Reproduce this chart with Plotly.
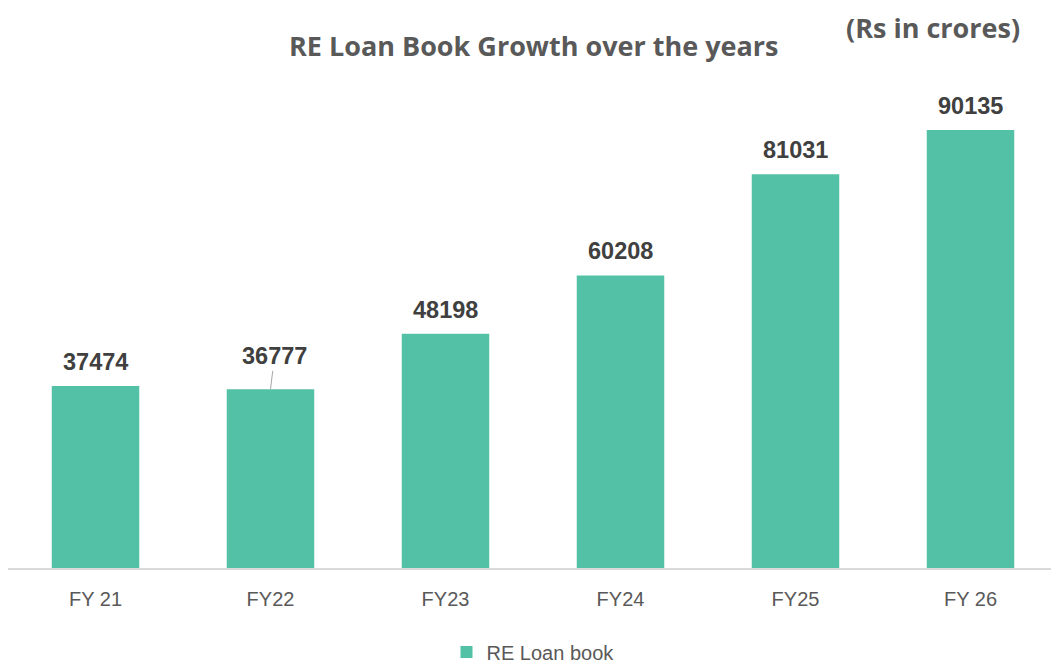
import plotly.graph_objects as go

categories = ["FY 21", "FY22", "FY23", "FY24", "FY25", "FY 26"]
loan_book = [37474, 36777, 48198, 60208, 81031, 90135]
series_name = "RE Loan book"
title_text = "RE Loan Book Growth over the years"
unit_text = "(Rs in crores)"

bar_color = "#53C1A5"
label_color = "#404040"
text_gray = "#595959"

W, H = 1059, 663
OFF = 8  # page body offset
ML, MR, MT, MB = 0, 9, 72, 103
PW, PH = W - ML - MR, H - MT - MB


def px_to_paper(px, py):
    # px, py are screenshot coordinates
    fx, fy = px - OFF, py - OFF
    return (fx - ML) / PW, (H - MB - fy) / PH


fig = go.Figure()
fig.add_trace(go.Bar(
    x=categories, y=loan_book, name=series_name,
    marker=dict(color=bar_color, line=dict(width=0)),
    width=0.5, showlegend=True,
))

for cat, val in zip(categories, loan_book):
    if cat == "FY22":
        fig.add_annotation(x=cat, y=val, text=f"<b>{val}</b>", showarrow=True,
                           arrowhead=0, arrowwidth=1, arrowcolor="#A6A6A6",
                           ax=4, ay=-33, standoff=0, startstandoff=0,
                           font=dict(family="Liberation Sans, Arial", size=23.5, color=label_color))
    else:
        fig.add_annotation(x=cat, y=val, text=f"<b>{val}</b>", showarrow=False,
                           yshift=24, yanchor="middle",
                           font=dict(family="Liberation Sans, Arial", size=23.5, color=label_color))

tx, ty = px_to_paper(533, 45)
fig.add_annotation(xref="paper", yref="paper", x=tx, y=ty,
                   text=f"<b>{title_text}</b>", showarrow=False,
                   xanchor="center", yanchor="middle",
                   font=dict(family="Open Sans", size=27, color=text_gray))
ux, uy = px_to_paper(933, 8)
fig.add_annotation(xref="paper", yref="paper", x=ux, y=uy,
                   text=f"<b>{unit_text}</b>", showarrow=False,
                   xanchor="center", yanchor="top", borderpad=0,
                   font=dict(family="Open Sans", size=27, color=text_gray))

fig.update_layout(
    width=W, height=H,
    margin=dict(l=ML, r=MR, t=MT, b=MB),
    plot_bgcolor="white", paper_bgcolor="white",
    bargap=0.5,
    xaxis=dict(showline=True, linecolor="#D9D9D9", linewidth=2, ticks="",
               tickfont=dict(family="Liberation Sans, Arial", size=20, color=text_gray),
               ticklabelstandoff=12, showgrid=False),
    yaxis=dict(visible=False, range=[0, 90135 * (H - MT - MB) / 438], showgrid=False),
    legend=dict(orientation="h", xanchor="center", x=0.5, yref="container",
                y=(H - (652 - OFF)) / H, yanchor="middle",
                font=dict(family="Liberation Sans, Arial", size=20, color=text_gray)),
    font=dict(family="Liberation Sans, Arial"),
)

fig.write_html("out.html")
